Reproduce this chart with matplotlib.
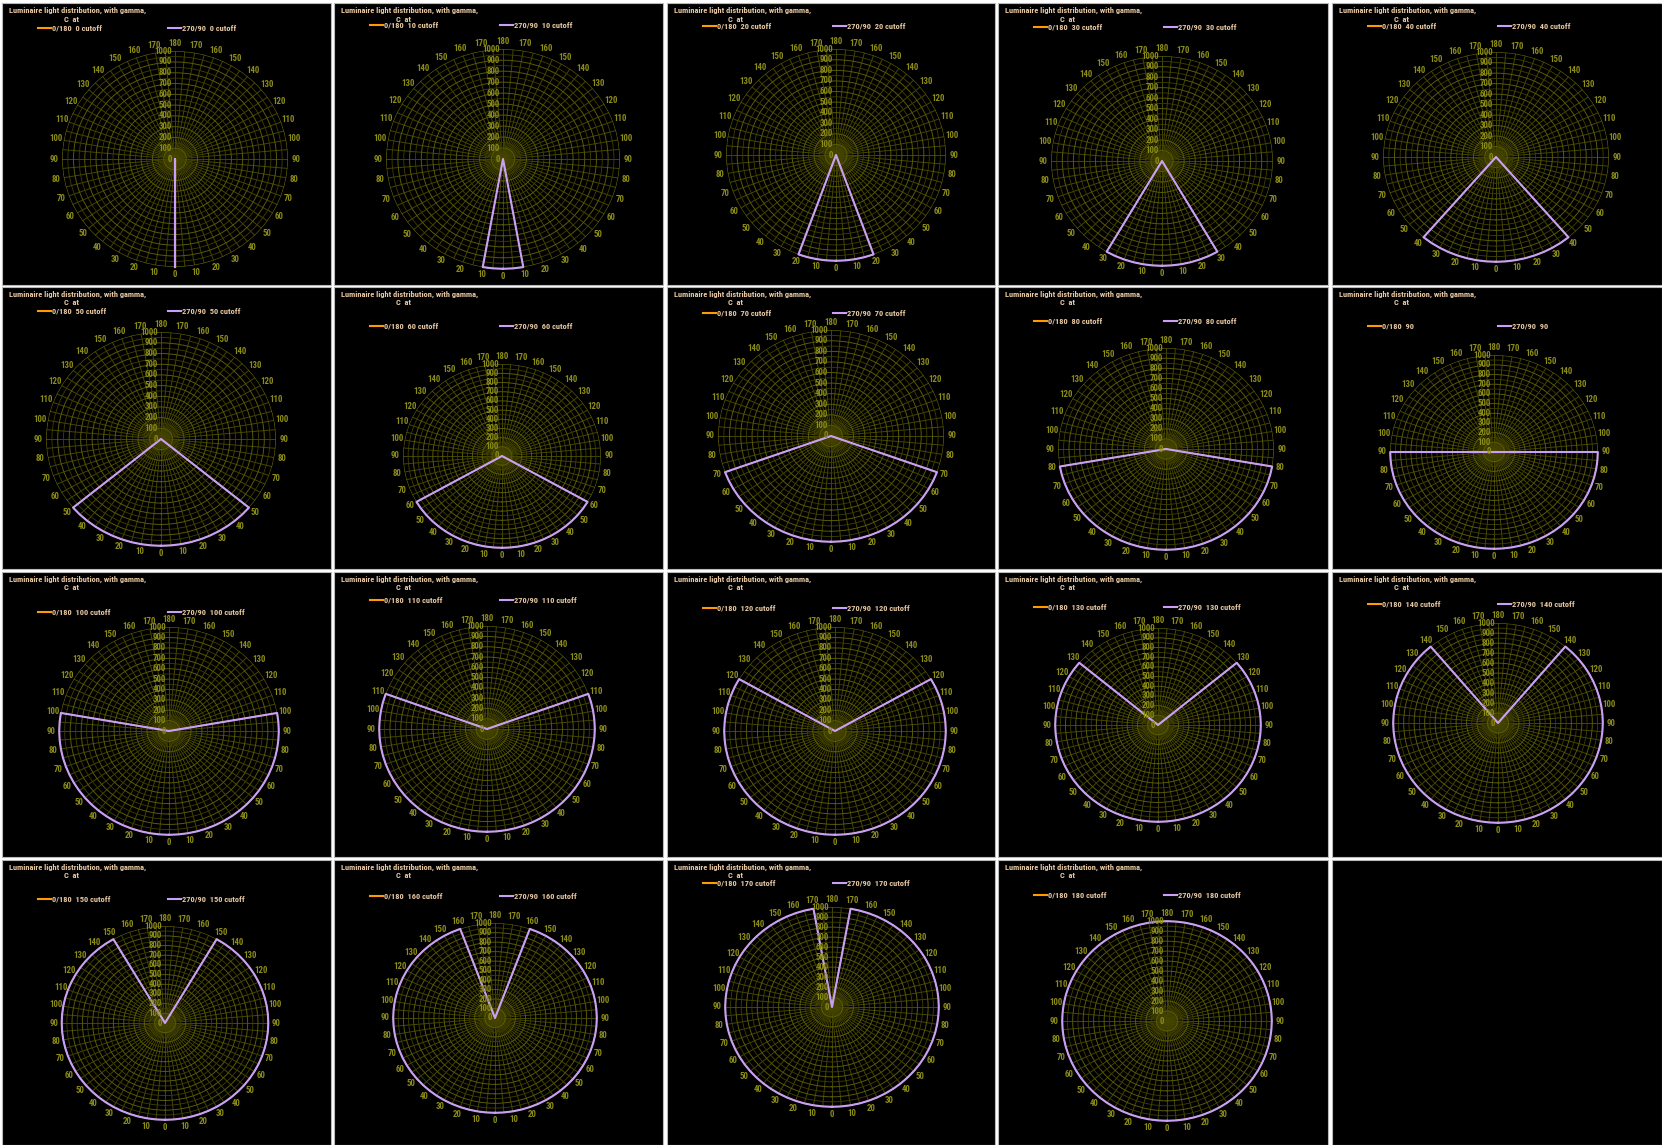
import numpy as np
import matplotlib
matplotlib.use("Agg")
import matplotlib.pyplot as plt
from matplotlib import font_manager as fm
from matplotlib.patches import Rectangle
from matplotlib.lines import Line2D
from matplotlib.transforms import offset_copy

# ---------------- data ----------------
cutoff_deg = [0, 10, 20, 30, 40, 50, 60, 70, 80, 90,
              100, 110, 120, 130, 140, 150, 160, 170, 180]
peak_cd = 1000                      # intensity inside the cutoff cone
theta_deg = np.arange(0, 360, 5)    # radar categories (C-plane round trip)
gamma_deg = np.where(theta_deg <= 180, theta_deg, 360 - theta_deg)
radial_ticks = [0, 100, 200, 300, 400, 500, 600, 700, 800, 900, 1000]
series_names = ["0/180", "270/90"]
title_line1 = "Luminaire light distribution, with gamma,"
title_line2 = "C  at"

# ---------------- layout (pixels, top-left origin) ----------------
W, H, DPI = 1662, 1145, 100
col_x = [(2, 331), (334, 663), (667, 995), (998, 1328), (1332, 1662)]
row_y = [(3, 285), (287, 569), (572, 857), (860, 1145)]
# centre x, centre y, radius x, radius y, legend y
geom = [
    (175, 159, 113, 108, 28), (503, 159, 117, 110, 25), (836, 155, 110, 106, 26),
    (1162, 161, 111, 105, 27), (1496, 157, 113, 105, 26),
    (161, 439, 115, 107, 311), (502, 456, 99, 92, 326), (831, 436, 113, 106, 313),
    (1166, 449, 108, 101, 321), (1494, 452, 104, 97, 326),
    (169, 731, 110, 104, 612), (487, 729, 108, 103, 600), (835, 731, 111, 104, 608),
    (1158, 725, 103, 97, 607), (1498, 723, 105, 100, 604),
    (165, 1023, 103.5, 97, 899), (495, 1018, 102, 95, 896), (832, 1007, 107, 100, 883),
    (1167, 1021, 105, 100, 895),
]

avail = {f.name for f in fm.fontManager.ttflist}
FONT = "DejaVu Sans"
for cand in ["Liberation Sans Narrow", "Arial Narrow", "Noto Sans Condensed",
             "DejaVu Sans Condensed", "Roboto Condensed", "Roboto",
             "Liberation Sans"]:
    if cand in avail:
        FONT = cand
        break
FAM = [FONT, "DejaVu Sans"]

TITLE_C = "#e6c7a2"
LABEL_C = "#8c8c18"
GRID_MAJ = "#5a5a08"
GRID_MIN = "#404000"
SPOKE_C = "#464600"
ORANGE = "#ff9a00"
PURPLE = "#c9a0f5"

fig = plt.figure(figsize=(W / DPI, H / DPI), dpi=DPI, facecolor="white")
renderer = fig.canvas.get_renderer()


def fit_size(s, target_px, lo=4.0, hi=6.5):
    t = fig.text(0, 0, s, family=FAM, weight="bold", fontsize=10)
    w = t.get_window_extent(renderer).width
    t.remove()
    return float(np.clip(10 * target_px / w, lo, hi))


TITLE_FS = fit_size(title_line1, 137)
LABEL_FS = 6.4


def fx(x):
    return x / W


def fy(y):
    return 1 - y / H


# panel backgrounds (20 cells)
for r, (y0, y1) in enumerate(row_y):
    for c, (x0, x1) in enumerate(col_x):
        fig.add_artist(Rectangle((fx(x0), fy(y1)), (x1 - x0) / W, (y1 - y0) / H,
                                 transform=fig.transFigure, facecolor="black",
                                 edgecolor="#b8b8b8", lw=0.8, zorder=-5))

for i, cut in enumerate(cutoff_deg):
    r, c = divmod(i, 5)
    x0 = col_x[c][0]
    y0 = row_y[r][0]
    cx, cy, rx, ry, ly = geom[i]

    # titles
    fig.text(fx(x0 + 7), fy(y0 + 7), title_line1, family=FAM, weight="bold",
             fontsize=TITLE_FS, color=TITLE_C, ha="left", va="center")
    fig.text(fx(x0 + 69), fy(y0 + 16), title_line2, family=FAM, weight="bold",
             fontsize=TITLE_FS, color=TITLE_C, ha="center", va="center")

    # legend
    suffix = "" if cut == 90 else " cutoff"
    for k, (name, col) in enumerate(zip(series_names, [ORANGE, PURPLE])):
        lx = x0 + 36 + k * 130
        fig.add_artist(Line2D([fx(lx), fx(lx + 13)], [fy(ly), fy(ly)],
                              transform=fig.transFigure, color=col, lw=1.5))
        fig.text(fx(lx + 14), fy(ly), f"{name}  {cut}{suffix}", family=FAM,
                 weight="bold", fontsize=TITLE_FS, color=TITLE_C, ha="left",
                 va="center")

    # polar chart
    ax = fig.add_axes([fx(cx - rx), fy(cy + ry), 2 * rx / W, 2 * ry / H],
                      projection="polar")
    ax.set_aspect("auto")
    ax.set_facecolor("none")
    ax.set_theta_zero_location("S")
    ax.set_theta_direction(1)
    ax.set_ylim(0, peak_cd * 1.002)

    ax.set_xticks(np.deg2rad(theta_deg))
    ax.set_xticklabels([str(g) if g % 10 == 0 else "" for g in gamma_deg],
                       family=FAM, weight="bold")
    ax.tick_params(axis="x", labelsize=LABEL_FS, labelcolor=LABEL_C, pad=-1.5,
                   length=0)
    ax.set_yticks(radial_ticks)
    ax.set_yticks(np.arange(50, 1000, 100), minor=True)
    ax.set_yticklabels([])
    ax.tick_params(axis="y", which="both", length=0)
    ax.xaxis.grid(True, color=SPOKE_C, lw=0.7)
    ax.yaxis.grid(True, which="major", color=GRID_MAJ, lw=0.7)
    ax.yaxis.grid(True, which="minor", color=GRID_MIN, lw=0.6)
    ax.spines["polar"].set_visible(False)

    off = offset_copy(ax.transData, fig=fig, x=-3, y=0, units="dots")
    for rv in radial_ticks:
        ax.text(np.pi, rv, str(rv), transform=off, ha="right", va="center",
                family=FAM, weight="bold", fontsize=LABEL_FS, color=LABEL_C,
                clip_on=False)

    vals = np.where(gamma_deg <= cut, peak_cd, 0)
    th = np.deg2rad(np.append(theta_deg, 360))
    vv = np.append(vals, vals[0])
    ax.plot(th, vv, color=ORANGE, lw=0.8, clip_on=False)
    ax.plot(th, vv, color=PURPLE, lw=1.5, clip_on=False)

fig.savefig("out.png", dpi=DPI, facecolor="white")
